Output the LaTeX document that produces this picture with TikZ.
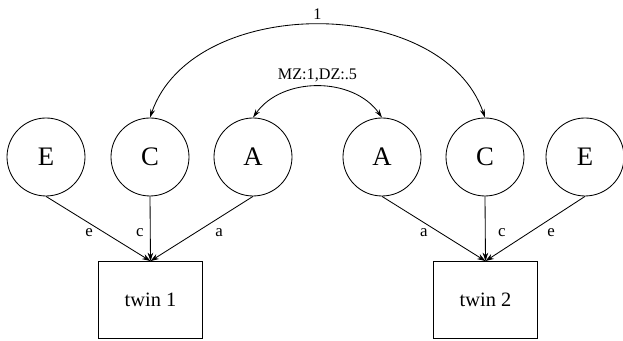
\documentclass[tikz,border=0pt]{standalone}
\usepackage{fontspec}
\setmainfont{Liberation Serif}
\usetikzlibrary{arrows.meta,positioning}

\begin{document}
\begin{tikzpicture}[
    latent/.style={draw, circle, minimum size=1.95cm, inner sep=0pt, line width=0.6pt, font=\fontsize{19}{21}\selectfont},
    observed/.style={draw, rectangle, minimum width=2.6cm, minimum height=1.925cm, line width=0.6pt, font=\fontsize{14.5}{17}\selectfont},
    load/.style={line width=0.6pt, -{Stealth[length=6pt,width=4pt]}},
    corr/.style={line width=0.6pt, {Stealth[length=6pt,width=3.5pt]}-{Stealth[length=6pt,width=3.5pt]}},
    coef/.style={font=\fontsize{12}{14}\selectfont, inner sep=0pt},
    corrlabel/.style={font=\fontsize{11.5}{13}\selectfont}
]
    \useasboundingbox (0,0) rectangle (15.575,8.525);
    % Draw latent factors of twin 1
    \node[latent] (E1) at (1.15,4.6) {E};
    \node[latent] (C1) at (3.75,4.6) {C};
    \node[latent] (A1) at (6.325,4.6) {A};
    % Draw latent factors of twin 2
    \node[latent] (A2) at (9.55,4.6) {A};
    \node[latent] (C2) at (12.125,4.6) {C};
    \node[latent] (E2) at (14.625,4.6) {E};
    % Draw the twins
    \node[observed] (T1) at (3.7625,1.025) {twin 1};
    \node[observed] (T2) at (12.1375,1.025) {twin 2};
    % Paths to twin 1
    \draw[load] (E1.south) -- (T1.north) node[coef, pos=0.557, left=7.7pt] {e};
    \draw[load] (C1.south) -- (T1.north) node[coef, pos=0.557, left=4.5pt] {c};
    \draw[load] (A1.south) -- (T1.north) node[coef, pos=0.557, right=13.5pt] {a};
    % Paths to twin 2
    \draw[load] (A2.south) -- (T2.north) node[coef, pos=0.557, left=8.3pt] {a};
    \draw[load] (C2.south) -- (T2.north) node[coef, pos=0.557, right=8.9pt] {c};
    \draw[load] (E2.south) -- (T2.north) node[coef, pos=0.557, right=12.3pt] {e};
    % Correlations between the twins
    \draw[corr] (C1.north) to[out=71, in=109] node[corrlabel, midway, above] {1} (C2.north);
    \draw[corr] (A1.north) to[out=55, in=125] node[corrlabel, midway, above] {MZ:1,DZ:.5} (A2.north);
\end{tikzpicture}
\end{document}
